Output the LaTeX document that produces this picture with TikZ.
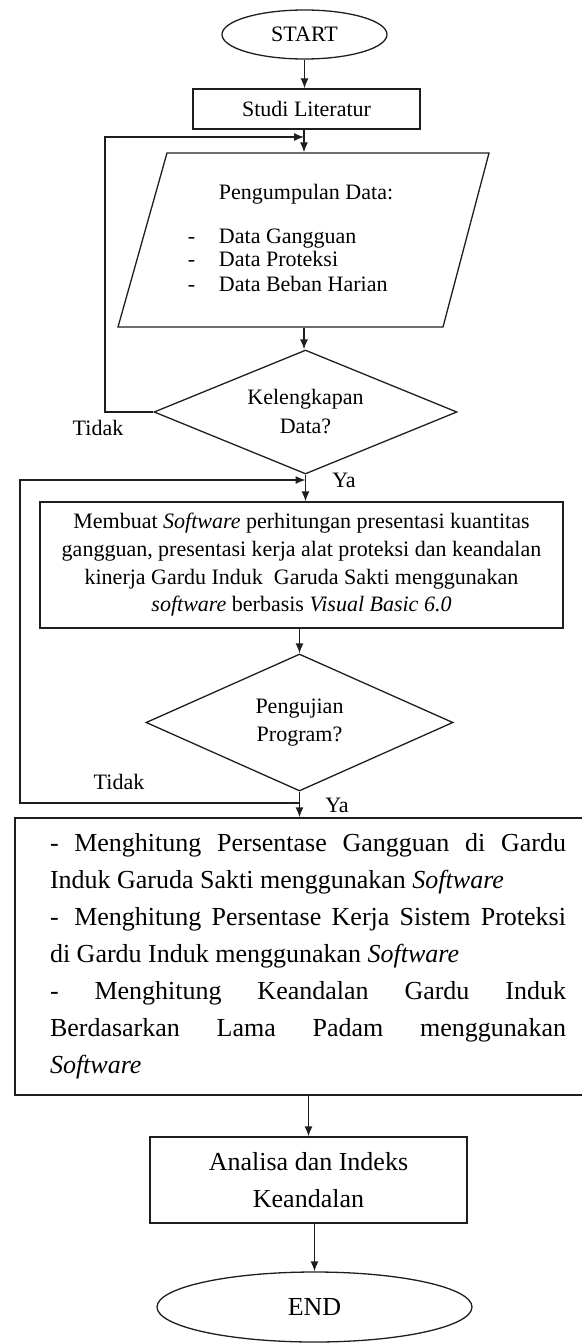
\documentclass[tikz,border=0pt]{standalone}
\usepackage{fontspec}
\setmainfont{Liberation Serif}
\usetikzlibrary{shapes.geometric,arrows.meta}
\newcommand\myfs[2]{\fontsize{#1}{#2}\selectfont}
\setlength{\parindent}{0pt}
\definecolor{ln}{RGB}{30,30,30}
\begin{document}
\begin{tikzpicture}[x=1pt,y=-1pt,line width=1.3pt,
  every node/.style={text=black},
  shp/.style={draw=ln,line width=1.3pt,inner sep=0pt},
  lbl/.style={font=\myfs{22}{26}},
  arr/.style={draw=ln,line width=1.3pt,-{Latex[length=10pt,width=8pt]}},
  ln/.style={draw=ln,line width=1.3pt}]
\useasboundingbox (0,0) rectangle (581,1343);

% terminals and process boxes
\node[shp,ellipse,minimum width=165pt,minimum height=49pt,font=\myfs{22}{26}] (start) at (304.5,34.5) {START};
\node[shp,minimum width=227pt,minimum height=40pt,font=\myfs{22}{26}] (studi) at (306.5,109) {Studi Literatur};

% data input (parallelogram)
\node[minimum width=322pt,minimum height=174pt,inner sep=0pt] (data) at (304,240) {};
\draw[ln] (167,153) -- (489,153) -- (443,327) -- (118,327) -- cycle;
\node[lbl,anchor=base west] (ptitle) at (215,200) {Pengumpulan Data:};
\node[lbl,anchor=base west] (p1) at (184,243) {\makebox[31pt][l]{-}Data Gangguan};
\node[lbl,anchor=base west] (p2) at (184,266) {\makebox[31pt][l]{-}Data Proteksi};
\node[lbl,anchor=base west] (p3) at (184,291) {\makebox[31pt][l]{-}Data Beban Harian};

% decision 1
\node[shp,diamond,aspect=2.44,minimum width=303pt,minimum height=124pt,align=center,font=\myfs{22}{29}] (d1) at (305.5,412) {Kelengkapan\\Data?};

% process 2
\node[shp,minimum width=523pt,minimum height=126pt,align=center,font=\myfs{22}{27.7}] (box2) at (301.5,565)
 {Membuat \textit{Software} perhitungan presentasi kuantitas\\
  gangguan, presentasi kerja alat proteksi dan keandalan\\
  kinerja Gardu Induk\ \ Garuda Sakti menggunakan\\
  \textit{software} berbasis \textit{Visual Basic 6.0}};

% decision 2
\node[shp,diamond,aspect=2.24,minimum width=307pt,minimum height=137pt,align=center,font=\myfs{22}{28}] (d2) at (299.5,722.5) {Pengujian\\Program?};

% process 3
\node[shp,minimum width=586pt,minimum height=277pt,text width=516pt,inner xsep=35pt,align=justify,font=\myfs{26}{37}] (box3) at (308,956.5)
 {-\ Menghitung Persentase Gangguan di Gardu\linebreak
  Induk Garuda Sakti menggunakan \textit{Software}\par
  -\hspace{0.6em}Menghitung Persentase Kerja Sistem Proteksi\linebreak
  di Gardu Induk menggunakan \textit{Software}\par
  - Menghitung Keandalan Gardu Induk\linebreak
  Berdasarkan Lama Padam menggunakan\linebreak
  \textit{Software}\par};

% process 4 and end
\node[shp,minimum width=317pt,minimum height=86pt,align=center,font=\myfs{26}{37}] (box4) at (308.5,1180) {Analisa dan Indeks\\Keandalan};
\node[shp,ellipse,minimum width=315pt,minimum height=70pt,font=\myfs{26}{30}] (stop) at (314.5,1307) {END};

% labels
\node[lbl] (t1) at (98,428) {Tidak};
\node[lbl] (y1) at (344,480) {Ya};
\node[lbl] (t2) at (119,782) {Tidak};
\node[lbl] (y2) at (337,805) {Ya};

% helper coordinates
\coordinate (c1) at (105,137);
\coordinate (c2) at (20,803);
\coordinate (c3) at (20,480);

% connectors
\draw[arr] (start.south) -- (start.south |- studi.north);
\draw[arr] (studi.south -| data.north) -- (data.north);
\draw[arr] (data.south) -- (data.south |- d1.north);
\draw[arr] (d1.west) -| (c1) -- (c1 -| data.north);
\draw[arr] (d1.south) -- (d1.south |- box2.north);
\draw[arr] (d2.south |- c2) -- (c2) -- (c3) -- (c3 -| d1.south);
\draw[arr] (box2.south -| d2.north) -- (d2.north);
\draw[arr] (d2.south) -- (d2.south |- box3.north);
\draw[arr] (box4.north |- box3.south) -- (box4.north);
\draw[arr] (stop.north |- box4.south) -- (stop.north);
\end{tikzpicture}
\end{document}
